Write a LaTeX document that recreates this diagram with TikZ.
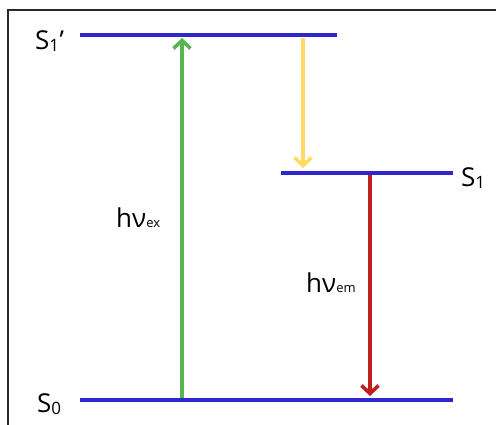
\documentclass[tikz,border=0pt]{standalone}
\usepackage{fontspec}
\setmainfont{Open Sans}
\usetikzlibrary{arrows.meta}
\definecolor{lvlblue}{RGB}{48,38,205}
\definecolor{exgreen}{RGB}{88,182,80}
\definecolor{relyellow}{RGB}{255,218,100}
\definecolor{emred}{RGB}{190,32,30}
\definecolor{framegray}{RGB}{40,40,40}
\tikzset{
  level/.style={draw=lvlblue, line width=4pt},
  trans/.style={line width=3.8pt, -{Straight Barb[length=8pt,width=17pt,line width=3.6pt]}},
  big/.style={font=\fontsize{26}{31}\selectfont, inner sep=0pt},
}
\newcommand{\subtxt}[1]{{\fontsize{13}{15}\selectfont #1}}
\newcommand{\subnum}[1]{\raisebox{-2pt}{\fontsize{17}{20}\selectfont #1}}
\begin{document}
\begin{tikzpicture}[x=1pt,y=-1pt]
\useasboundingbox (0,0) rectangle (496,425);
\draw[framegray, line width=2pt] (8,426) -- (8,10) -- (497,10);
% levels
\coordinate (s1pL) at (80,35);  \coordinate (s1pR) at (337,35);
\coordinate (s1L) at (281,173); \coordinate (s1R) at (453,173);
\coordinate (s0L) at (80,400);  \coordinate (s0R) at (453,400);
\draw[level] (s1pL) -- (s1pR);
\draw[level] (s1L) -- (s1R);
\draw[level] (s0L) -- (s0R);
% transition endpoints
\coordinate (exA) at (182,398); \coordinate (exB) at (182,38);
\coordinate (icA) at (303,38);  \coordinate (icB) at (303,168);
\coordinate (emA) at (370,175); \coordinate (emB) at (370,396);
\draw[trans, exgreen] (exA) -- (exB);
\draw[trans, relyellow] (icA) -- (icB);
\draw[trans, emred] (emA) -- (emB);
% labels
\node[big, anchor=base west] (ls1p) at (35,50) {S\subnum{1}\kern0.5pt’};
\node[big, anchor=base west] (ls1) at (461,187) {S\subnum{1}};
\node[big, anchor=base west] (ls0) at (37,412) {S\subnum{0}};
\node[big, anchor=base west] (lex) at (116,228) {hν\subtxt{ex}};
\node[big, anchor=base west] (lem) at (306,293) {hν\subtxt{em}};
\end{tikzpicture}
\end{document}
